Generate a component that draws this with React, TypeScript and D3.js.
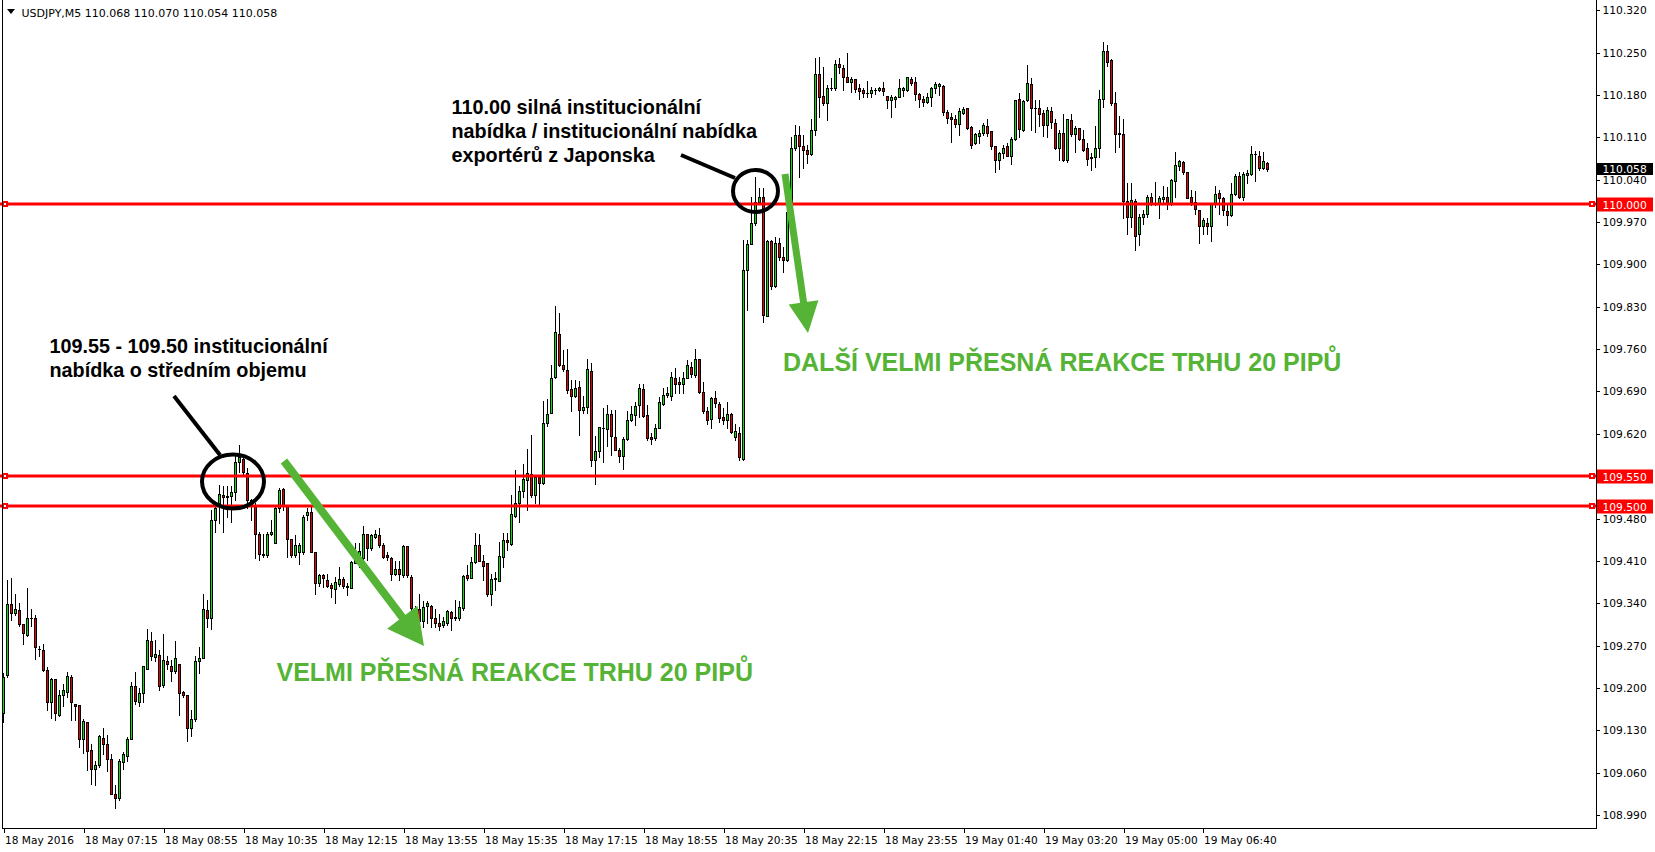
import React from 'react';
import * as d3 from 'd3';

const opens = [
109.158,109.221,109.338,109.324,109.329,109.306,109.287,109.316,109.315,109.265,
109.263,109.230,109.177,109.214,109.156,109.189,109.193,109.218,109.174,109.171,
109.115,109.143,109.098,109.066,109.073,109.118,109.108,109.083,109.024,109.018,
109.078,109.088,109.115,109.204,109.177,109.192,109.232,109.277,109.251,109.255,
109.205,109.245,109.237,109.228,109.240,109.193,109.189,109.134,109.148,109.245,
109.250,109.329,109.315,109.478,109.506,109.519,109.517,109.517,109.524,109.573,
109.578,109.556,109.511,109.501,109.455,109.421,109.420,109.454,109.439,109.497,
109.528,109.501,109.446,109.420,109.424,109.424,109.486,109.491,109.424,109.373,
109.387,109.378,109.370,109.363,109.371,109.380,109.367,109.365,109.406,109.414,
109.414,109.454,109.431,109.449,109.453,109.436,109.420,109.414,109.389,109.396,
109.386,109.435,109.383,109.332,109.330,109.310,109.335,109.336,109.315,109.308,
109.304,109.307,109.326,109.316,109.315,109.332,109.386,109.382,109.408,109.436,
109.410,109.406,109.355,109.380,109.377,109.416,109.444,109.438,109.485,109.506,
109.526,109.544,109.553,109.519,109.548,109.538,109.638,109.655,109.714,109.785,
109.734,109.726,109.694,109.683,109.697,109.659,109.665,109.724,109.577,109.592,
109.629,109.628,109.652,109.615,109.594,109.584,109.611,109.643,109.651,109.667,
109.694,109.651,109.615,109.613,109.629,109.670,109.684,109.682,109.713,109.705,
109.702,109.713,109.731,109.718,109.743,109.689,109.657,109.644,109.679,109.670,
109.647,109.643,109.652,109.614,109.622,109.578,109.891,109.934,109.969,110.003,
110.011,109.815,109.938,109.864,109.935,109.913,109.907,109.986,110.093,110.114,
110.095,110.089,110.082,110.122,110.214,110.178,110.166,110.191,110.191,110.232,
110.224,110.210,110.201,110.206,110.191,110.188,110.183,110.183,110.189,110.188,
110.191,110.179,110.172,110.174,110.177,110.189,110.189,110.206,110.201,110.182,
110.173,110.169,110.176,110.191,110.195,110.195,110.152,110.143,110.141,110.132,
110.150,110.158,110.127,110.100,110.112,110.117,110.129,110.120,110.095,110.073,
110.084,110.095,110.080,110.107,110.173,110.122,110.172,110.199,110.158,110.158,
110.150,110.131,110.154,110.133,110.093,110.117,110.073,110.139,110.115,110.125,
110.108,110.092,110.076,110.077,110.093,110.174,110.253,110.238,110.167,110.117,
110.115,110.004,109.978,110.005,109.950,109.979,109.983,110.011,110.001,110.000,
110.008,110.011,110.000,110.038,110.063,110.069,110.052,110.011,110.003,109.990,
109.963,109.969,109.963,110.001,110.018,110.009,109.988,109.982,110.016,110.046,
110.011,110.047,110.049,110.082,110.079,110.060,110.068];

const highs = [
109.225,109.378,109.382,109.355,109.341,109.306,109.366,109.331,109.320,109.269,
109.273,109.234,109.216,109.214,109.196,109.207,109.227,109.221,109.174,109.171,
109.149,109.143,109.108,109.080,109.122,109.133,109.123,109.091,109.040,109.082,
109.094,109.119,109.210,109.227,109.200,109.237,109.297,109.292,109.280,109.262,
109.289,109.253,109.247,109.277,109.240,109.195,109.189,109.164,109.252,109.268,
109.355,109.345,109.494,109.508,109.535,109.533,109.533,109.533,109.585,109.601,
109.580,109.563,109.513,109.505,109.458,109.455,109.457,109.478,109.502,109.530,
109.530,109.502,109.446,109.453,109.439,109.486,109.497,109.502,109.424,109.389,
109.389,109.389,109.373,109.384,109.400,109.384,109.373,109.409,109.439,109.439,
109.468,109.454,109.455,109.461,109.464,109.439,109.424,109.417,109.409,109.409,
109.436,109.435,109.387,109.335,109.356,109.343,109.343,109.337,109.330,109.323,
109.318,109.329,109.327,109.345,109.343,109.387,109.403,109.417,109.456,109.454,
109.420,109.406,109.389,109.392,109.442,109.456,109.456,109.519,109.560,109.533,
109.570,109.595,109.618,109.549,109.549,109.675,109.677,109.734,109.831,109.820,
109.758,109.760,109.709,109.709,109.708,109.682,109.743,109.737,109.616,109.632,
109.662,109.667,109.660,109.660,109.596,109.614,109.658,109.666,109.673,109.703,
109.703,109.668,109.621,109.637,109.681,109.695,109.698,109.723,109.728,109.714,
109.723,109.742,109.739,109.760,109.743,109.706,109.665,109.681,109.690,109.673,
109.662,109.673,109.654,109.637,109.632,109.940,109.940,110.012,110.045,110.026,
110.026,109.940,109.940,109.946,109.944,109.929,110.017,110.111,110.130,110.129,
110.114,110.097,110.140,110.241,110.242,110.227,110.196,110.208,110.238,110.241,
110.230,110.249,110.210,110.206,110.199,110.191,110.203,110.194,110.191,110.194,
110.201,110.179,110.180,110.178,110.206,110.194,110.210,110.209,110.209,110.184,
110.178,110.183,110.194,110.202,110.200,110.196,110.155,110.150,110.147,110.158,
110.160,110.159,110.128,110.117,110.122,110.133,110.140,110.120,110.095,110.086,
110.098,110.100,110.111,110.172,110.184,110.172,110.230,110.208,110.172,110.171,
110.155,110.161,110.160,110.140,110.122,110.149,110.141,110.148,110.129,110.126,
110.122,110.100,110.084,110.129,110.188,110.268,110.263,110.239,110.185,110.145,
110.141,110.034,110.034,110.008,109.984,109.990,110.015,110.018,110.036,110.013,
110.030,110.028,110.041,110.086,110.073,110.071,110.053,110.023,110.022,109.990,
109.976,109.976,110.002,110.030,110.023,110.011,110.001,110.035,110.049,110.052,
110.052,110.056,110.096,110.088,110.088,110.086,110.070];

const lows = [
109.144,109.218,109.313,109.320,109.303,109.273,109.286,109.303,109.248,109.252,
109.228,109.163,109.150,109.147,109.154,109.170,109.185,109.147,109.147,109.102,
109.092,109.065,109.041,109.040,109.069,109.090,109.063,109.024,109.002,109.014,
109.066,109.080,109.115,109.173,109.170,109.176,109.231,109.247,109.245,109.197,
109.202,109.232,109.211,109.225,109.156,109.185,109.112,109.121,109.146,109.225,
109.250,109.301,109.297,109.458,109.472,109.458,109.483,109.475,109.511,109.557,
109.552,109.497,109.478,109.414,109.411,109.417,109.417,109.453,109.439,109.491,
109.494,109.417,109.417,109.417,109.405,109.422,109.478,109.424,109.355,109.369,
109.367,109.367,109.351,109.341,109.369,109.365,109.354,109.365,109.406,109.400,
109.411,109.411,109.428,109.447,109.433,109.414,109.411,109.379,109.387,109.379,
109.384,109.384,109.312,109.301,109.301,109.301,109.307,109.301,109.301,109.296,
109.301,109.304,109.296,109.312,109.312,109.329,109.378,109.381,109.406,109.409,
109.378,109.352,109.337,109.362,109.376,109.400,109.428,109.436,109.483,109.475,
109.516,109.494,109.516,109.505,109.501,109.537,109.633,109.654,109.712,109.732,
109.724,109.688,109.657,109.681,109.618,109.655,109.655,109.566,109.537,109.582,
109.574,109.600,109.585,109.593,109.574,109.562,109.610,109.641,109.634,109.648,
109.648,109.610,109.604,109.610,109.629,109.668,109.681,109.676,109.687,109.687,
109.688,109.712,109.714,109.714,109.687,109.655,109.637,109.629,109.665,109.640,
109.637,109.629,109.621,109.610,109.576,109.576,109.825,109.934,109.965,110.001,
109.805,109.814,109.860,109.863,109.907,109.888,109.905,109.984,110.089,110.045,
110.059,110.067,110.081,110.114,110.144,110.163,110.139,110.188,110.188,110.216,
110.188,110.201,110.185,110.185,110.174,110.177,110.177,110.177,110.182,110.186,
110.180,110.158,110.144,110.160,110.176,110.178,110.187,110.196,110.171,110.161,
110.162,110.167,110.162,110.183,110.180,110.147,110.133,110.103,110.127,110.114,
110.148,110.123,110.093,110.099,110.100,110.114,110.112,110.091,110.053,110.057,
110.076,110.079,110.066,110.106,110.111,110.121,110.170,110.122,110.119,110.129,
110.112,110.111,110.125,110.090,110.073,110.071,110.070,110.112,110.086,110.106,
110.088,110.064,110.056,110.061,110.078,110.160,110.228,110.163,110.086,110.094,
109.976,109.950,109.962,109.924,109.932,109.966,109.978,109.998,109.998,109.976,
110.001,109.991,109.998,110.012,110.056,110.050,110.009,109.998,109.984,109.936,
109.950,109.950,109.939,109.995,109.984,109.982,109.965,109.980,110.015,110.009,
110.006,110.035,110.048,110.038,110.056,110.058,110.054];

const closes = [
109.218,109.338,109.324,109.330,109.306,109.290,109.316,109.316,109.268,109.265,
109.229,109.177,109.214,109.159,109.189,109.197,109.220,109.177,109.170,109.115,
109.145,109.096,109.066,109.073,109.120,109.107,109.083,109.024,109.018,109.079,
109.090,109.115,109.204,109.179,109.192,109.236,109.279,109.253,109.256,109.204,
109.247,109.240,109.228,109.249,109.192,109.189,109.134,109.149,109.245,109.250,
109.331,109.315,109.478,109.498,109.520,109.515,109.515,109.524,109.573,109.581,
109.557,109.511,109.501,109.455,109.421,109.420,109.454,109.457,109.497,109.527,
109.501,109.446,109.420,109.436,109.436,109.482,109.491,109.424,109.373,109.387,
109.381,109.369,109.365,109.375,109.380,109.369,109.369,109.408,109.414,109.427,
109.454,109.431,109.453,109.454,109.436,109.417,109.417,109.389,109.396,109.388,
109.435,109.386,109.332,109.310,109.311,109.334,109.340,109.315,109.307,109.303,
109.310,109.327,109.315,109.317,109.334,109.385,109.381,109.408,109.436,109.410,
109.402,109.355,109.380,109.382,109.418,109.444,109.441,109.487,109.505,109.525,
109.545,109.555,109.519,109.548,109.538,109.638,109.653,109.713,109.788,109.733,
109.727,109.692,109.683,109.695,109.659,109.665,109.727,109.577,109.592,109.631,
109.629,109.652,109.617,109.594,109.584,109.611,109.643,109.652,109.666,109.695,
109.649,109.613,109.611,109.629,109.672,109.684,109.687,109.714,109.703,109.702,
109.713,109.734,109.719,109.743,109.689,109.657,109.643,109.679,109.671,109.646,
109.643,109.653,109.623,109.625,109.581,109.891,109.934,109.969,110.003,110.011,
109.816,109.938,109.864,109.935,109.913,109.907,109.986,110.093,110.114,110.095,
110.089,110.082,110.122,110.214,110.177,110.166,110.191,110.191,110.232,110.226,
110.210,110.202,110.206,110.190,110.187,110.183,110.184,110.188,110.189,110.192,
110.187,110.172,110.176,110.177,110.191,110.191,110.209,110.200,110.181,110.173,
110.169,110.176,110.191,110.198,110.198,110.152,110.142,110.141,110.132,110.153,
110.157,110.126,110.097,110.115,110.118,110.130,110.117,110.095,110.073,110.084,
110.093,110.079,110.108,110.172,110.123,110.170,110.200,110.158,110.158,110.149,
110.131,110.155,110.135,110.092,110.117,110.073,110.140,110.115,110.125,110.108,
110.089,110.075,110.078,110.093,110.174,110.253,110.235,110.167,110.115,110.115,
110.004,109.978,110.007,109.947,109.979,109.983,110.011,110.000,110.000,110.009,
110.011,110.000,110.039,110.064,110.071,110.052,110.010,110.003,109.991,109.964,
109.973,109.964,110.001,110.017,110.009,109.990,109.982,110.017,110.046,110.011,
110.049,110.051,110.082,110.082,110.060,110.071,110.058];

const timeLabels = [
  '18 May 2016', '18 May 07:15', '18 May 08:55', '18 May 10:35', '18 May 12:15',
  '18 May 13:55', '18 May 15:35', '18 May 17:15', '18 May 18:55', '18 May 20:35',
  '18 May 22:15', '18 May 23:55', '19 May 01:40', '19 May 03:20', '19 May 05:00',
  '19 May 06:40'
];
const timeLabelBars = [0, 20, 40, 60, 80, 100, 120, 140, 160, 180, 200, 220, 240, 260, 280, 300];

const priceTicks = [
  110.320, 110.250, 110.180, 110.110, 110.040, 109.970, 109.900, 109.830, 109.760,
  109.690, 109.620, 109.550, 109.480, 109.410, 109.340, 109.270, 109.200, 109.130,
  109.060, 108.990
];
const levels = [110.000, 109.550, 109.500];
const lastPrice = 110.058;
const headerText = 'USDJPY,M5  110.068 110.070 110.054 110.058';

const GREEN = '#00E600';
const RED = '#E60000';
const ARROW = '#55B435';
const AXIS_FONT = '"DejaVu Sans", Verdana, sans-serif';
const NOTE_FONT = '"Liberation Sans", Arial, sans-serif';

function Arrow({ x1, y1, x2, y2, headLen, headHalf, width }: any) {
  const dx = x2 - x1, dy = y2 - y1;
  const L = Math.hypot(dx, dy);
  const ux = dx / L, uy = dy / L;
  const px = -uy, py = ux;
  const bx = x2 - ux * headLen, by = y2 - uy * headLen;
  const pts = [
    [x2, y2],
    [bx + px * headHalf, by + py * headHalf],
    [bx - px * headHalf, by - py * headHalf],
  ].map(p => p.join(',')).join(' ');
  return (
    <g>
      <line x1={x1} y1={y1} x2={bx + ux * 2} y2={by + uy * 2} stroke={ARROW} strokeWidth={width} />
      <polygon points={pts} fill={ARROW} />
    </g>
  );
}

export default function App() {
  const W = 1655, H = 852;
  const plotRight = 1596;
  const plotBottom = 828;
  const n = opens.length;
  const x = d3.scaleLinear().domain([0, n - 1]).range([3.5, 3.5 + 4 * (n - 1)]);
  const y = d3.scaleLinear().domain([108.990, 110.320]).range([815, 10.3]);

  const candles = opens.map((o, i) => {
    const c = closes[i];
    const cx = x(i);
    const yt = Math.round(y(Math.max(o, c)));
    const yb = Math.round(y(Math.min(o, c)));
    const yh = Math.round(y(highs[i]));
    const yl = Math.round(y(lows[i]));
    const up = c >= o;
    return (
      <g key={i}>
        <line x1={cx} x2={cx} y1={yh} y2={yl + 1} stroke="#000" strokeWidth={1} />
        {yb - yt >= 1 ? (
          <rect x={cx - 1} y={yt + 0.5} width={2} height={yb - yt} fill={up ? GREEN : RED} stroke="#000" strokeWidth={1} />
        ) : (
          <line x1={cx - 1.5} x2={cx + 1.5} y1={yt + 0.5} y2={yt + 0.5} stroke="#000" strokeWidth={1} />
        )}
      </g>
    );
  });

  return (
    <svg width={W} height={H} style={{ position: 'absolute', left: 0, top: 0, background: '#fff' }}>
      <rect x={0} y={0} width={W} height={H} fill="#fff" />
      <g shapeRendering="crispEdges">
        {candles}
      </g>

      {/* level lines */}
      {levels.map((lv, k) => {
        const yy = Math.round(y(lv));
        return (
          <g key={k}>
            <line x1={0} x2={plotRight} y1={yy} y2={yy} stroke="#FF0000" strokeWidth={3} />
            <rect x={2} y={yy - 3} width={6} height={6} fill="#FF0000" />
            <rect x={4} y={yy - 1} width={2} height={2} fill="#fff" />
            <rect x={1589} y={yy - 3} width={6} height={6} fill="#FF0000" />
            <rect x={1591} y={yy - 1} width={2} height={2} fill="#fff" />
          </g>
        );
      })}

      {/* frame */}
      <g shapeRendering="crispEdges">
        <line x1={2.5} x2={2.5} y1={0} y2={plotBottom} stroke="#000" />
        <line x1={2} x2={plotRight + 1} y1={plotBottom + 0.5} y2={plotBottom + 0.5} stroke="#000" />
        <line x1={plotRight + 0.5} x2={plotRight + 0.5} y1={0} y2={plotBottom + 1} stroke="#000" />
      </g>

      {/* header */}
      <path d="M7,9 L15,9 L11,14 Z" fill="#000" />
      <text x={21.5} y={16.5} fontFamily={AXIS_FONT} fontSize={11} fill="#000">{headerText}</text>

      {/* price axis */}
      {priceTicks.map((p, k) => {
        const yy = Math.round(y(p));
        return (
          <g key={k}>
            <line x1={plotRight} x2={plotRight + 4} y1={yy + 0.5} y2={yy + 0.5} stroke="#000" shapeRendering="crispEdges" />
            <text x={1602.5} y={yy + 4} fontFamily={AXIS_FONT} fontSize={10.7} fill="#000">{p.toFixed(3)}</text>
          </g>
        );
      })}
      {levels.map((lv, k) => {
        const yy = y(lv);
        return (
          <g key={'lb' + k}>
            <rect x={1597} y={Math.round(yy) - 6.5} width={56} height={14} fill="#FF0000" />
            <text x={1602.5} y={Math.round(yy) + 4.5} fontFamily={AXIS_FONT} fontSize={10.7} fill="#fff">{lv.toFixed(3)}</text>
          </g>
        );
      })}
      <rect x={1597} y={Math.round(y(lastPrice)) - 6} width={56} height={12} fill="#000" />
      <text x={1602.5} y={Math.round(y(lastPrice)) + 4} fontFamily={AXIS_FONT} fontSize={10.7} fill="#fff">{lastPrice.toFixed(3)}</text>

      {/* time axis */}
      {timeLabelBars.map((b, k) => {
        const xx = Math.round(x(b));
        return (
          <g key={k}>
            <line x1={xx + 0.5} x2={xx + 0.5} y1={plotBottom} y2={plotBottom + 5} stroke="#000" shapeRendering="crispEdges" />
            <text x={xx + 1} y={844} fontFamily={AXIS_FONT} fontSize={10.6} fill="#000">{timeLabels[k]}</text>
          </g>
        );
      })}

      {/* annotations */}
      <ellipse cx={233} cy={481.5} rx={31} ry={27} fill="none" stroke="#000" strokeWidth={4} />
      <line x1={174} y1={396} x2={220} y2={455} stroke="#000" strokeWidth={4} />
      <ellipse cx={755.5} cy={191} rx={22.5} ry={21} fill="none" stroke="#000" strokeWidth={4} />
      <line x1={681} y1={155} x2={735} y2={178} stroke="#000" strokeWidth={4} />

      <Arrow x1={284} y1={461} x2={424} y2={646} headLen={36} headHalf={19} width={8} />
      <Arrow x1={785} y1={174} x2={808} y2={333} headLen={31} headHalf={15} width={7} />

      <g fontFamily={NOTE_FONT} fontWeight="bold" fontSize={19.8} fill="#000">
        <text x={451.5} y={113.5}>110.00 silná institucionální</text>
        <text x={451.5} y={138}>nabídka / institucionální nabídka</text>
        <text x={451.5} y={162.3}>exportérů z Japonska</text>
        <text x={49.5} y={352.5}>109.55 - 109.50 institucionální</text>
        <text x={49.5} y={376.5}>nabídka o středním objemu</text>
      </g>
      <g fontFamily={NOTE_FONT} fontWeight="bold" fontSize={25} fill={ARROW}>
        <text x={783} y={371}>DALŠÍ VELMI PŘESNÁ REAKCE TRHU 20 PIPŮ</text>
        <text x={276.5} y={681}>VELMI PŘESNÁ REAKCE TRHU 20 PIPŮ</text>
      </g>
    </svg>
  );
}
